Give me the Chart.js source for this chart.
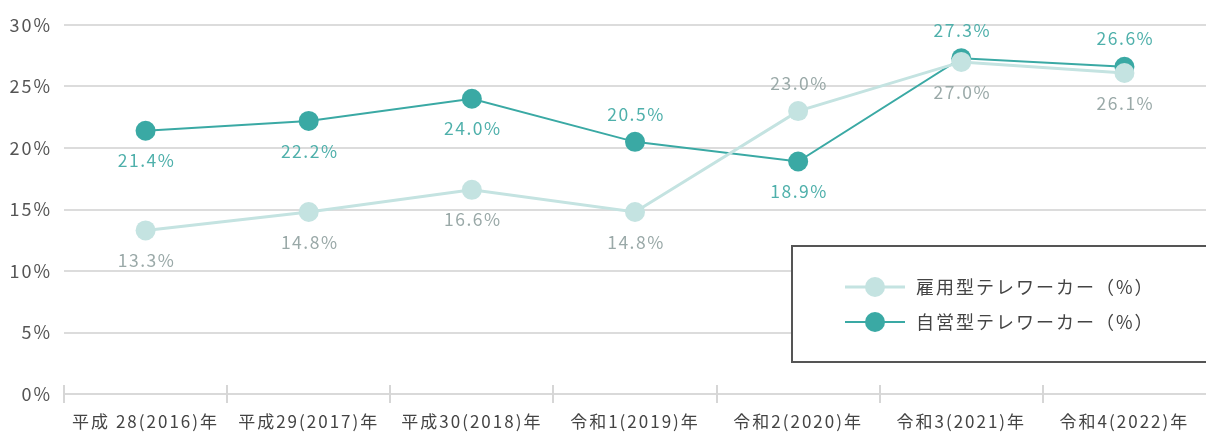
<!DOCTYPE html>
<html>
<head>
<meta charset="utf-8">
<script src="https://cdn.jsdelivr.net/npm/chart.js@4"></script>
<style>
  html, body { margin: 0; padding: 0; background: #ffffff; }
  #wrap { width: 1206px; height: 432px; position: relative; }
</style>
</head>
<body>
<div id="wrap"><canvas id="c" width="1206" height="432"></canvas></div>
<script>
const categories = ['平成 28(2016)年', '平成29(2017)年', '平成30(2018)年', '令和1(2019)年', '令和2(2020)年', '令和3(2021)年', '令和4(2022)年'];
const employedLabel = '雇用型テレワーカー（%）';
const selfLabel = '自営型テレワーカー（%）';
const employedValues = [13.3, 14.8, 16.6, 14.8, 23.0, 27.0, 26.1];
const selfValues = [21.4, 22.2, 24.0, 20.5, 18.9, 27.3, 26.6];
const yTicks = [0, 5, 10, 15, 20, 25, 30];

const FONT = '"Noto Sans CJK JP", "Noto Sans", sans-serif';
const LIGHT = '#c4e3e1';
const DARK = '#3aa9a4';

function setSpacing(chart) { try { chart.ctx.letterSpacing = '2px'; } catch (e) {} }

const helperPlugin = {
  id: 'helper',
  beforeLayout(chart) { setSpacing(chart); },
  beforeDraw(chart) { setSpacing(chart); },
  afterDatasetsDraw(chart) {
    const ctx = chart.ctx;
    const xs = chart.scales.x;
    const ca = chart.chartArea;
    ctx.save();
    ctx.strokeStyle = '#d6d6d6';
    ctx.lineWidth = 2;
    const n = chart.data.labels.length;
    const step = xs.getPixelForValue(1) - xs.getPixelForValue(0);
    for (let i = 0; i < n; i++) {
      const x = Math.round(xs.getPixelForValue(i) - step / 2);
      ctx.beginPath();
      ctx.moveTo(x, ca.bottom - 9);
      ctx.lineTo(x, ca.bottom + 9);
      ctx.stroke();
    }
    ctx.restore();
    ctx.save();
    ctx.letterSpacing = '1.5px';
    ctx.font = '17.5px ' + FONT;
    ctx.textAlign = 'center';
    ctx.textBaseline = 'middle';
    chart.data.datasets.forEach((ds, di) => {
      const meta = chart.getDatasetMeta(di);
      meta.data.forEach((pt, i) => {
        const above = ds.labelPlacement[i] === 'above';
        ctx.fillStyle = ds.labelColor;
        ctx.fillText(ds.data[i].toFixed(1) + '%', pt.x + 1, pt.y + (above ? -28 : 30));
      });
    });
    ctx.restore();
  },
  afterDraw(chart) {
    const ctx = chart.ctx;
    ctx.save();
    ctx.fillStyle = '#ffffff';
    ctx.fillRect(791, 245, 420, 117);
    ctx.strokeStyle = '#555555';
    ctx.lineWidth = 2;
    ctx.strokeRect(792, 246, 420, 116);
    const rows = [287, 322];
    chart.data.datasets.forEach((ds, di) => {
      const y = rows[di];
      ctx.strokeStyle = ds.borderColor;
      ctx.lineWidth = ds.borderWidth;
      ctx.beginPath();
      ctx.moveTo(845, y);
      ctx.lineTo(905, y);
      ctx.stroke();
      ctx.fillStyle = ds.pointBackgroundColor;
      ctx.beginPath();
      ctx.arc(875, y, 10, 0, Math.PI * 2);
      ctx.fill();
      ctx.letterSpacing = '2px';
      ctx.font = '18px ' + FONT;
      ctx.fillStyle = '#444444';
      ctx.textAlign = 'left';
      ctx.textBaseline = 'middle';
      ctx.fillText(ds.label, 916, y);
    });
    ctx.restore();
  }
};

new Chart(document.getElementById('c'), {
  type: 'line',
  data: {
    labels: categories,
    datasets: [
      {
        label: employedLabel,
        data: employedValues,
        borderColor: LIGHT,
        backgroundColor: LIGHT,
        pointBackgroundColor: LIGHT,
        pointBorderWidth: 0,
        pointRadius: 10,
        pointHoverRadius: 10,
        borderWidth: 3,
        tension: 0,
        labelColor: '#9aa9a8',
        labelPlacement: ['below', 'below', 'below', 'below', 'above', 'below', 'below']
      },
      {
        label: selfLabel,
        data: selfValues,
        borderColor: DARK,
        backgroundColor: DARK,
        pointBackgroundColor: DARK,
        pointBorderWidth: 0,
        pointRadius: 10,
        pointHoverRadius: 10,
        borderWidth: 2,
        tension: 0,
        labelColor: '#4fb0ab',
        labelPlacement: ['below', 'below', 'below', 'above', 'below', 'above', 'above']
      }
    ]
  },
  options: {
    responsive: false,
    animation: false,
    devicePixelRatio: 1,
    layout: { autoPadding: false, padding: { top: 25, right: 0, left: 0, bottom: 0 } },
    plugins: {
      legend: { display: false },
      tooltip: { enabled: false }
    },
    scales: {
      x: {
        offset: true,
        grid: { display: false, offset: true },
        border: { display: true, color: '#d9d9d9', width: 2 },
        ticks: {
          color: '#444444',
          font: { family: FONT, size: 17 },
          padding: 9,
          maxRotation: 0,
          autoSkip: false
        },
        afterFit(scale) { scale.height = 38; scale.paddingLeft = 0; scale.paddingRight = 0; }
      },
      y: {
        min: 0,
        max: 30,
        afterBuildTicks(scale) { scale.ticks = yTicks.map(v => ({ value: v })); },
        grid: { color: '#dcdcdc', lineWidth: 2, drawTicks: false },
        border: { display: false },
        ticks: {
          color: '#555555',
          font: { family: FONT, size: 18 },
          padding: 12,
          callback: v => v + '%'
        },
        afterFit(scale) { scale.width = 64; scale.paddingTop = 0; scale.paddingBottom = 0; }
      }
    }
  },
  plugins: [helperPlugin]
});
</script>
</body>
</html>
